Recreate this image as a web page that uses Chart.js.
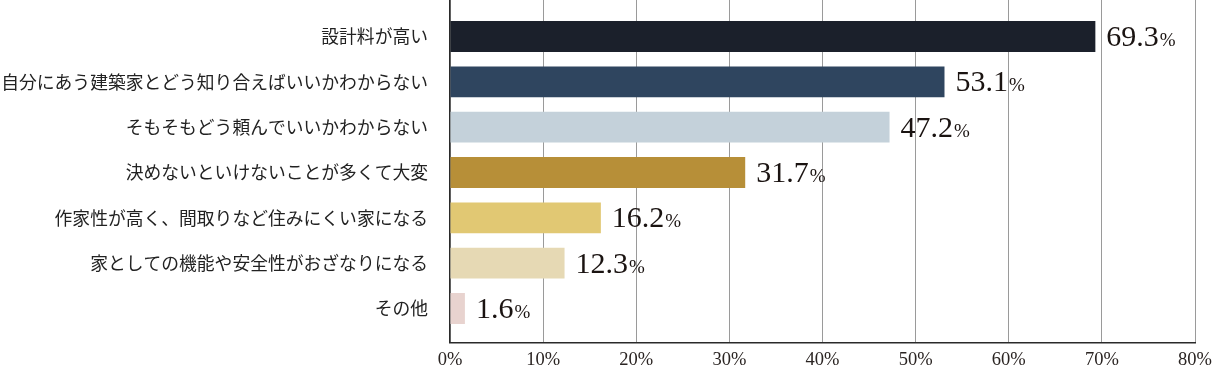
<!DOCTYPE html>
<html><head><meta charset="utf-8">
<script src="https://cdn.jsdelivr.net/npm/chart.js@4"></script>
<style>html,body{margin:0;padding:0;background:#fff;}#wrap{width:1214px;height:367px;}</style>
</head><body>
<div id="wrap"><canvas id="c" width="1214" height="367"></canvas></div>
<script>
const categories = [
  "設計料が高い",
  "自分にあう建築家とどう知り合えばいいかわからない",
  "そもそもどう頼んでいいかわからない",
  "決めないといけないことが多くて大変",
  "作家性が高く、間取りなど住みにくい家になる",
  "家としての機能や安全性がおざなりになる",
  "その他"
];
const values = [69.3, 53.1, 47.2, 31.7, 16.2, 12.3, 1.6];
const barColors = ["#1b202b", "#2f455f", "#c4d1da", "#b78f38", "#e1c873", "#e6d9b4", "#e8d3cf"];
const xTickValues = [0, 10, 20, 30, 40, 50, 60, 70, 80];

const serif = "'Liberation Serif', 'DejaVu Serif', serif";
const jp = "'Noto Sans CJK JP', sans-serif";
const Y_MIN = -0.805, Y_MAX = 6.75;

const valueLabels = {
  id: 'valueLabels',
  afterDraw(chart) {
    const ctx = chart.ctx;
    const meta = chart.getDatasetMeta(0);
    ctx.save();
    ctx.fillStyle = '#1a1311';
    ctx.textBaseline = 'alphabetic';
    ctx.textAlign = 'left';
    meta.data.forEach((bar, i) => {
      const num = values[i].toFixed(1);
      const x = bar.x + 11;
      const y = bar.y + 9.5;
      ctx.font = '30px ' + serif;
      ctx.fillText(num, x, y);
      const w = ctx.measureText(num).width;
      ctx.font = '19px ' + serif;
      ctx.fillText('%', x + w + 1, y);
    });
    ctx.restore();
  }
};

new Chart(document.getElementById('c'), {
  type: 'bar',
  data: {
    datasets: [{
      data: values.map((v, i) => ({ x: v, y: i })),
      backgroundColor: barColors,
      borderWidth: 0,
      barPercentage: 0.68,
      categoryPercentage: 1
    }]
  },
  options: {
    indexAxis: 'y',
    responsive: false,
    animation: false,
    devicePixelRatio: 1,
    layout: { padding: { top: 0, bottom: 0, left: 0, right: 0 } },
    plugins: { legend: { display: false }, tooltip: { enabled: false } },
    scales: {
      x: {
        type: 'linear',
        min: 0, max: 80,
        z: 1,
        afterBuildTicks(scale) { scale.ticks = xTickValues.map(v => ({ value: v })); },
        afterFit(scale) { scale.height = 24.5; scale.paddingRight = 19; scale.paddingLeft = 0; },
        grid: { color: '#9a9a9a', lineWidth: 1, drawTicks: false },
        border: { color: '#2a2a2a', width: 1.5 },
        ticks: {
          padding: 7,
          color: '#2a2422',
          font: { family: serif, size: 18.5 },
          callback: v => v + '%'
        }
      },
      y: {
        type: 'linear',
        reverse: true,
        offset: false,
        bounds: 'data',
        min: Y_MIN,
        max: Y_MAX,
        afterBuildTicks(scale) {
          scale.ticks = categories.map((c, i) => ({ value: i }));
          scale.min = Y_MIN;
          scale.max = Y_MAX;
        },
        afterFit(scale) { scale.width = 450; scale.paddingTop = 0; scale.paddingBottom = 0; },
        grid: { display: false, drawTicks: false, offset: false },
        border: { color: '#2a2a2a', width: 1.5 },
        ticks: {
          padding: 22,
          color: '#222',
          font: { family: jp, size: 17.8 },
          callback: v => categories[v]
        }
      }
    }
  },
  plugins: [valueLabels]
});
</script>
</body></html>
